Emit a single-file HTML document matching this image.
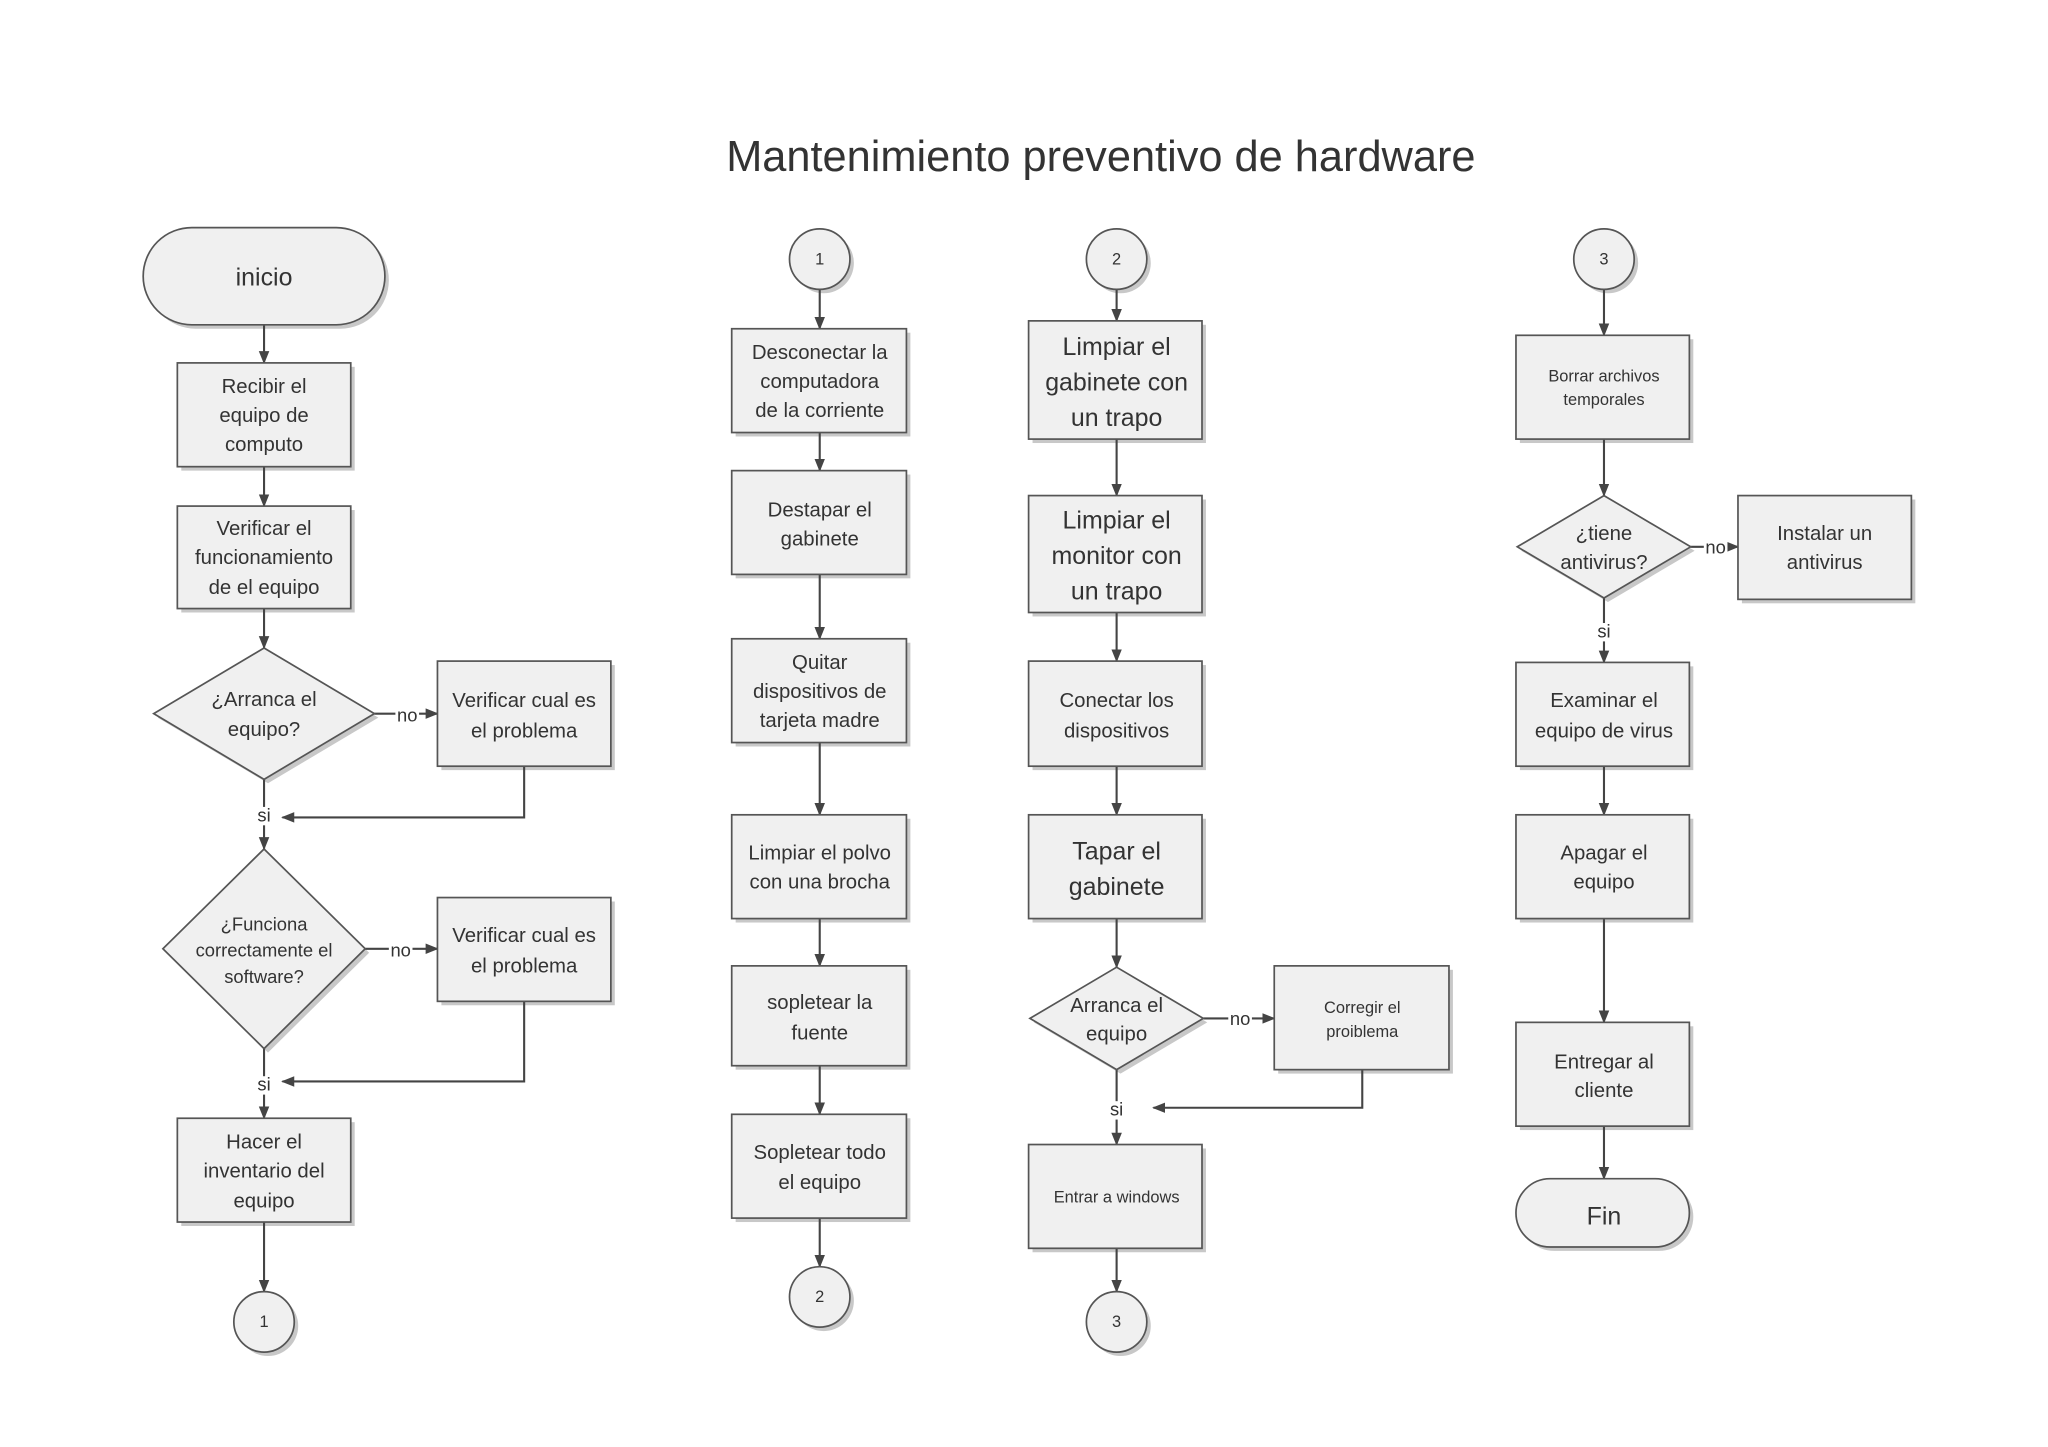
<!DOCTYPE html>
<html><head><meta charset="utf-8"><style>
html,body{margin:0;padding:0;background:#fff}
svg{display:block}
text{font-family:"Liberation Sans",sans-serif;fill:#333;text-anchor:middle}
.b{fill:#f0f0f0;stroke:#555;stroke-width:1.3}
.s{fill:#c8c8c8}
.l{stroke:#444;stroke-width:1.6;fill:none}
.t16{font-size:15.5px}.t20{font-size:19px}.t13{font-size:12.5px}.t14{font-size:14px}
</style></head><body>
<svg width="2048" height="1447" viewBox="0 0 1559 1101" xmlns="http://www.w3.org/2000/svg">
<defs><marker id="a" markerWidth="10" markerHeight="10" refX="9" refY="5" orient="auto" markerUnits="userSpaceOnUse"><path d="M0,1 L10,5 L0,9 z" fill="#444"/></marker></defs>
<text x="838" y="130" style="font-size:33px">Mantenimiento preventivo de hardware</text>

<!-- shadows -->
<g class="s">
<rect x="112" y="176" width="184" height="74" rx="37"/>
<rect x="138" y="279" width="132" height="79"/><rect x="138" y="388" width="132" height="78"/>
<polygon points="204,496 288,546 204,596 120,546"/><rect x="336" y="506" width="132" height="80"/>
<polygon points="204,649 281,725 204,801 127,725"/><rect x="336" y="686" width="132" height="79"/>
<rect x="138" y="854" width="132" height="79"/><circle cx="204" cy="1009" r="23"/>
<circle cx="627" cy="200" r="23"/>
<rect x="560" y="253" width="133" height="79"/><rect x="560" y="361" width="133" height="79"/>
<rect x="560" y="489" width="133" height="79"/><rect x="560" y="623" width="133" height="79"/>
<rect x="560" y="738" width="133" height="76"/><rect x="560" y="851" width="133" height="79"/>
<circle cx="627" cy="990" r="23"/>
<circle cx="853" cy="200" r="23"/>
<rect x="786" y="247" width="132" height="90"/><rect x="786" y="380" width="132" height="89"/>
<rect x="786" y="506" width="132" height="80"/><rect x="786" y="623" width="132" height="79"/>
<polygon points="853,739 919,778 853,817 787,778"/><rect x="973" y="738" width="133" height="79"/>
<rect x="786" y="874" width="132" height="79"/><circle cx="853" cy="1009" r="23"/>
<circle cx="1224" cy="200" r="23"/>
<rect x="1157" y="258" width="132" height="79"/>
<polygon points="1224,380 1290,419 1224,458 1158,419"/><rect x="1326" y="380" width="132" height="79"/>
<rect x="1157" y="507" width="132" height="79"/><rect x="1157" y="623" width="132" height="79"/>
<rect x="1157" y="781" width="132" height="79"/><rect x="1157" y="900" width="132" height="52" rx="26"/>
</g>

<!-- connectors -->
<g class="l">
<line x1="201" y1="247" x2="201" y2="276" marker-end="url(#a)"/>
<line x1="201" y1="355" x2="201" y2="385" marker-end="url(#a)"/>
<line x1="201" y1="463" x2="201" y2="493" marker-end="url(#a)"/>
<line x1="285" y1="543" x2="333" y2="543" marker-end="url(#a)"/>
<polyline points="399,583 399,622 215,622" marker-end="url(#a)"/>
<line x1="201" y1="593" x2="201" y2="646" marker-end="url(#a)"/>
<line x1="278" y1="722" x2="333" y2="722" marker-end="url(#a)"/>
<polyline points="399,762 399,823 215,823" marker-end="url(#a)"/>
<line x1="201" y1="798" x2="201" y2="851" marker-end="url(#a)"/>
<line x1="201" y1="930" x2="201" y2="983" marker-end="url(#a)"/>

<line x1="624" y1="220" x2="624" y2="250" marker-end="url(#a)"/>
<line x1="624" y1="329" x2="624" y2="358" marker-end="url(#a)"/>
<line x1="624" y1="437" x2="624" y2="486" marker-end="url(#a)"/>
<line x1="624" y1="565" x2="624" y2="620" marker-end="url(#a)"/>
<line x1="624" y1="699" x2="624" y2="735" marker-end="url(#a)"/>
<line x1="624" y1="811" x2="624" y2="848" marker-end="url(#a)"/>
<line x1="624" y1="927" x2="624" y2="964" marker-end="url(#a)"/>

<line x1="850" y1="220" x2="850" y2="244" marker-end="url(#a)"/>
<line x1="850" y1="334" x2="850" y2="377" marker-end="url(#a)"/>
<line x1="850" y1="466" x2="850" y2="503" marker-end="url(#a)"/>
<line x1="850" y1="583" x2="850" y2="620" marker-end="url(#a)"/>
<line x1="850" y1="699" x2="850" y2="736" marker-end="url(#a)"/>
<line x1="916" y1="775" x2="970" y2="775" marker-end="url(#a)"/>
<polyline points="1037,814 1037,843 878,843" marker-end="url(#a)"/>
<line x1="850" y1="814" x2="850" y2="871" marker-end="url(#a)"/>
<line x1="850" y1="950" x2="850" y2="983" marker-end="url(#a)"/>

<line x1="1221" y1="220" x2="1221" y2="255" marker-end="url(#a)"/>
<line x1="1221" y1="334" x2="1221" y2="377" marker-end="url(#a)"/>
<line x1="1287" y1="416" x2="1323" y2="416" marker-end="url(#a)"/>
<line x1="1221" y1="455" x2="1221" y2="504" marker-end="url(#a)"/>
<line x1="1221" y1="583" x2="1221" y2="620" marker-end="url(#a)"/>
<line x1="1221" y1="699" x2="1221" y2="778" marker-end="url(#a)"/>
<line x1="1221" y1="857" x2="1221" y2="897" marker-end="url(#a)"/>
</g>

<!-- shapes -->
<g class="b">
<rect x="109" y="173" width="184" height="74" rx="37"/>
<rect x="135" y="276" width="132" height="79"/><rect x="135" y="385" width="132" height="78"/>
<polygon points="201,493 285,543 201,593 117,543"/><rect x="333" y="503" width="132" height="80"/>
<polygon points="201,646 278,722 201,798 124,722"/><rect x="333" y="683" width="132" height="79"/>
<rect x="135" y="851" width="132" height="79"/><circle cx="201" cy="1006" r="23"/>
<circle cx="624" cy="197" r="23"/>
<rect x="557" y="250" width="133" height="79"/><rect x="557" y="358" width="133" height="79"/>
<rect x="557" y="486" width="133" height="79"/><rect x="557" y="620" width="133" height="79"/>
<rect x="557" y="735" width="133" height="76"/><rect x="557" y="848" width="133" height="79"/>
<circle cx="624" cy="987" r="23"/>
<circle cx="850" cy="197" r="23"/>
<rect x="783" y="244" width="132" height="90"/><rect x="783" y="377" width="132" height="89"/>
<rect x="783" y="503" width="132" height="80"/><rect x="783" y="620" width="132" height="79"/>
<polygon points="850,736 916,775 850,814 784,775"/><rect x="970" y="735" width="133" height="79"/>
<rect x="783" y="871" width="132" height="79"/><circle cx="850" cy="1006" r="23"/>
<circle cx="1221" cy="197" r="23"/>
<rect x="1154" y="255" width="132" height="79"/>
<polygon points="1221,377 1287,416 1221,455 1155,416"/><rect x="1323" y="377" width="132" height="79"/>
<rect x="1154" y="504" width="132" height="79"/><rect x="1154" y="620" width="132" height="79"/>
<rect x="1154" y="778" width="132" height="79"/><rect x="1154" y="897" width="132" height="52" rx="26"/>
</g>

<!-- label backgrounds -->
<g fill="#fff">
<rect x="301" y="536" width="18" height="14"/><rect x="296" y="716" width="18" height="14"/>
<rect x="194" y="614" width="14" height="14"/><rect x="194" y="819" width="14" height="14"/>
<rect x="935" y="769" width="18" height="14"/><rect x="843" y="838" width="14" height="14"/>
<rect x="1297" y="410" width="18" height="14"/><rect x="1214" y="474" width="14" height="14"/>
</g>

<!-- text -->
<g class="t14">
<text x="310" y="549">no</text><text x="305" y="728">no</text>
<text x="201" y="625">si</text><text x="201" y="830">si</text>
<text x="944" y="780">no</text><text x="850" y="849">si</text>
<text x="1306" y="421">no</text><text x="1221" y="485">si</text>
</g>
<text x="201" y="217" class="t20">inicio</text>
<g class="t16">
<text x="201" y="299">Recibir el</text><text x="201" y="321">equipo de</text><text x="201" y="343">computo</text>
<text x="201" y="407">Verificar el</text><text x="201" y="429">funcionamiento</text><text x="201" y="452">de el equipo</text>
<text x="201" y="537">¿Arranca el</text><text x="201" y="560">equipo?</text>
<text x="399" y="538">Verificar cual es</text><text x="399" y="561">el problema</text>
<text x="399" y="717">Verificar cual es</text><text x="399" y="740">el problema</text>
<text x="201" y="874">Hacer el</text><text x="201" y="896">inventario del</text><text x="201" y="919">equipo</text>
<text x="624" y="273">Desconectar la</text><text x="624" y="295">computadora</text><text x="624" y="317">de la corriente</text>
<text x="624" y="393">Destapar el</text><text x="624" y="415">gabinete</text>
<text x="624" y="509">Quitar</text><text x="624" y="531">dispositivos de</text><text x="624" y="553">tarjeta madre</text>
<text x="624" y="654">Limpiar el polvo</text><text x="624" y="676">con una brocha</text>
<text x="624" y="768">sopletear la</text><text x="624" y="791">fuente</text>
<text x="624" y="882">Sopletear todo</text><text x="624" y="905">el equipo</text>
<text x="850" y="538">Conectar los</text><text x="850" y="561">dispositivos</text>
<text x="850" y="770">Arranca el</text><text x="850" y="792">equipo</text>
<text x="1221" y="411">¿tiene</text><text x="1221" y="433">antivirus?</text>
<text x="1389" y="411">Instalar un</text><text x="1389" y="433">antivirus</text>
<text x="1221" y="538">Examinar el</text><text x="1221" y="561">equipo de virus</text>
<text x="1221" y="654">Apagar el</text><text x="1221" y="676">equipo</text>
<text x="1221" y="813">Entregar al</text><text x="1221" y="835">cliente</text>
</g>
<g class="t14">
<text x="201" y="708">¿Funciona</text><text x="201" y="728">correctamente el</text><text x="201" y="748">software?</text>
</g>
<g class="t20">
<text x="850" y="270">Limpiar el</text><text x="850" y="297">gabinete con</text><text x="850" y="324">un trapo</text>
<text x="850" y="402">Limpiar el</text><text x="850" y="429">monitor con</text><text x="850" y="456">un trapo</text>
<text x="850" y="654">Tapar el</text><text x="850" y="681">gabinete</text>
<text x="1221" y="932">Fin</text>
</g>
<g class="t13">
<text x="1037" y="771">Corregir el</text><text x="1037" y="789">proiblema</text>
<text x="850" y="915">Entrar a windows</text>
<text x="1221" y="290">Borrar archivos</text><text x="1221" y="308">temporales</text>
<text x="201" y="1010">1</text><text x="624" y="201">1</text>
<text x="624" y="991">2</text><text x="850" y="201">2</text>
<text x="850" y="1010">3</text><text x="1221" y="201">3</text>
</g>
</svg>
</body></html>
